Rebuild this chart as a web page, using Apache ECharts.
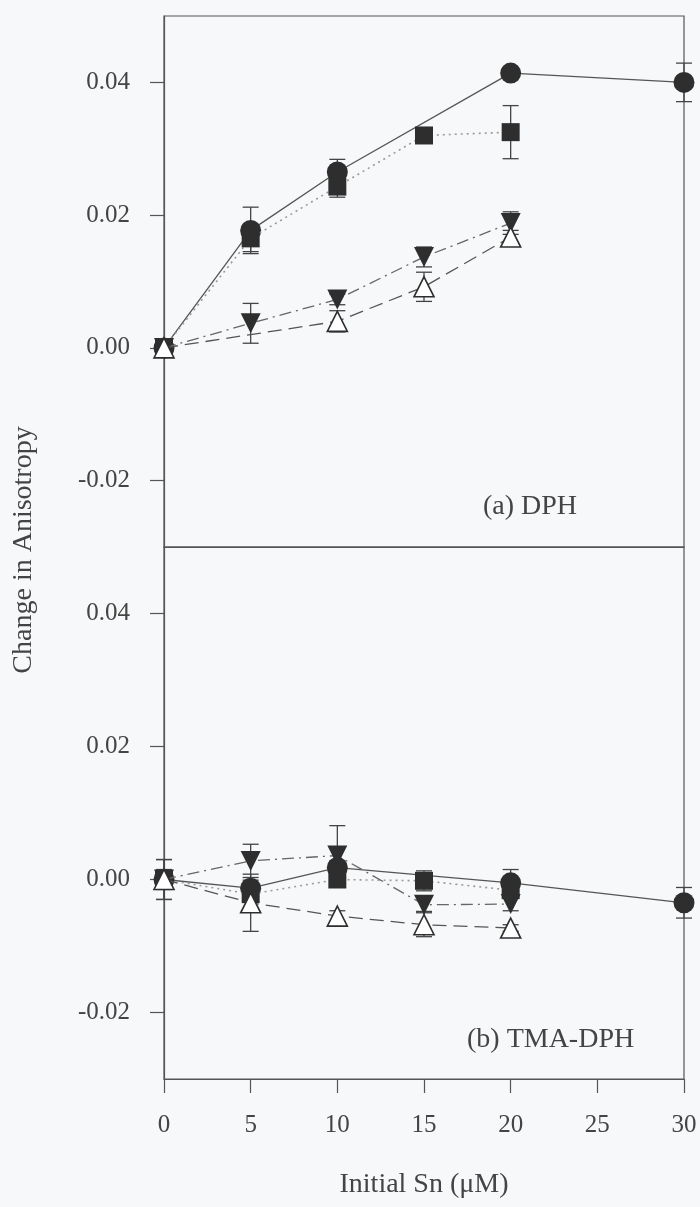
<!DOCTYPE html>
<html>
<head>
<meta charset="utf-8">
<script src="https://cdn.jsdelivr.net/npm/echarts@6/dist/echarts.min.js"></script>
<style>
  html, body { margin: 0; padding: 0; background: #f6f8f9; }
  #chart { width: 700px; height: 1207px; }
</style>
</head>
<body>
<div id="chart"></div>
<script>
// Axis ticks
const xTickValues = [0, 5, 10, 15, 20, 25, 30];
const yTickValues = [-0.02, 0.00, 0.02, 0.04];

// Points are [initial Sn (uM), change in anisotropy, error]
// (a) DPH
const dphCircle   = [[0, 0.0000, 0.0010], [5, 0.0177, 0.0035], [10, 0.0265, 0.0019], [20, 0.0414, 0.0008], [30, 0.0400, 0.0029]];
const dphSquare   = [[0, 0.0000, 0.0010], [5, 0.0165, 0.0020], [10, 0.0243, 0.0016], [15, 0.0320, 0.0005], [20, 0.0325, 0.0040]];
const dphInvTri   = [[0, 0.0000, 0.0010], [5, 0.0037, 0.0030], [10, 0.0073, 0.0008], [15, 0.0137, 0.0015], [20, 0.0188, 0.0017]];
const dphOpenTri  = [[0, 0.0000, 0.0010], [10, 0.0040, 0.0016], [15, 0.0092, 0.0022], [20, 0.0167, 0.0010]];

// (b) TMA-DPH
const tmaCircle   = [[0, 0.0000, 0.0015], [5, -0.0013, 0.0012], [10, 0.0018, 0.0010], [20, -0.0005, 0.0020], [30, -0.0035, 0.0023]];
const tmaSquare   = [[0, 0.0000, 0.0010], [5, -0.0022, 0.0010], [10, 0.0000, 0.0010], [15, -0.0002, 0.0015], [20, -0.0016, 0.0010]];
const tmaInvTri   = [[0, 0.0000, 0.0030], [5, 0.0028, 0.0025], [10, 0.0036, 0.0045], [15, -0.0038, 0.0010], [20, -0.0037, 0.0010]];
const tmaOpenTri  = [[0, 0.0000, 0.0030], [5, -0.0035, 0.0043], [10, -0.0055, 0.0008], [15, -0.0068, 0.0018], [20, -0.0073, 0.0005]];

const INK = '#2e2e2e';
const FRAME = '#555';
const FONT = 'Liberation Serif';

const styles = {
  circle:  { symbol: 'circle',   size: 21, rotate: 0,   fill: INK,   line: { color: '#555', width: 1.3, type: 'solid' }, z: 3 },
  square:  { symbol: 'rect',     size: 18, rotate: 0,   fill: INK,   line: { color: '#9a9a9a', width: 1.6, type: [2, 4] }, z: 4 },
  invTri:  { symbol: 'triangle', size: 20, rotate: 180, fill: INK,   line: { color: '#666', width: 1.3, type: [12, 5, 2, 5] }, z: 5 },
  openTri: { symbol: 'triangle', size: 20, rotate: 0,   fill: '#fff', line: { color: '#555', width: 1.3, type: [14, 7] }, z: 6 }
};

function lineSeries(points, panel, st) {
  return {
    type: 'line',
    xAxisIndex: panel, yAxisIndex: panel,
    data: points.map(p => [p[0], p[1]]),
    symbol: st.symbol, symbolSize: st.size, symbolRotate: st.rotate,
    itemStyle: { color: st.fill, borderColor: INK, borderWidth: st.fill === '#fff' ? 1.6 : 0 },
    lineStyle: st.line,
    clip: false, z: st.z, silent: true, animation: false
  };
}

function errorSeries(points, panel) {
  return {
    type: 'custom',
    xAxisIndex: panel, yAxisIndex: panel,
    data: points,
    encode: { x: 0, y: 1 },
    clip: false, z: 2, silent: true, animation: false,
    renderItem: function (params, api) {
      const x = api.value(0), y = api.value(1), e = api.value(2);
      const hi = api.coord([x, y + e]);
      const lo = api.coord([x, y - e]);
      const w = 8;
      const s = { stroke: '#444', lineWidth: 1.3 };
      return {
        type: 'group',
        children: [
          { type: 'line', shape: { x1: hi[0], y1: hi[1], x2: lo[0], y2: lo[1] }, style: s },
          { type: 'line', shape: { x1: hi[0] - w, y1: hi[1], x2: hi[0] + w, y2: hi[1] }, style: s },
          { type: 'line', shape: { x1: lo[0] - w, y1: lo[1], x2: lo[0] + w, y2: lo[1] }, style: s }
        ]
      };
    }
  };
}

function yAxisFor(panel) {
  return {
    type: 'value', gridIndex: panel,
    min: -0.03, max: 0.05, interval: 0.01,
    axisLine: { show: true, onZero: false, lineStyle: { color: FRAME, width: 1.2 } },
    axisTick: { show: true, inside: false, length: 14, customValues: yTickValues, lineStyle: { color: FRAME, width: 1.2 } },
    axisLabel: { show: true, customValues: yTickValues, margin: 34, fontFamily: FONT, fontSize: 25, color: '#444',
                 formatter: v => Number(v).toFixed(2) },
    splitLine: { show: false }
  };
}

const grids = [
  { left: 164, width: 520, top: 16, height: 531, show: true, borderColor: FRAME, borderWidth: 1.2, backgroundColor: 'transparent' },
  { left: 164, width: 520, top: 547, height: 532, show: true, borderColor: FRAME, borderWidth: 1.2, backgroundColor: 'transparent' }
];

const option = {
  backgroundColor: '#f6f8f9',
  animation: false,
  grid: grids,
  xAxis: [
    { type: 'value', gridIndex: 0, min: 0, max: 30, interval: 5,
      axisLine: { show: true, onZero: false, lineStyle: { color: FRAME, width: 1.2 } },
      axisTick: { show: false }, axisLabel: { show: false }, splitLine: { show: false } },
    { type: 'value', gridIndex: 1, min: 0, max: 30, interval: 5,
      axisLine: { show: true, onZero: false, lineStyle: { color: FRAME, width: 1.2 } },
      axisTick: { show: true, inside: false, length: 14, customValues: xTickValues, lineStyle: { color: FRAME, width: 1.2 } },
      axisLabel: { show: true, customValues: xTickValues, margin: 34, fontFamily: FONT, fontSize: 25, color: '#444' },
      splitLine: { show: false },
      name: 'Initial Sn (\u03BCM)', nameLocation: 'middle', nameGap: 92,
      nameTextStyle: { fontFamily: FONT, fontSize: 28, color: '#444' } }
  ],
  yAxis: [yAxisFor(0), yAxisFor(1)],
  graphic: [
    { type: 'text', x: 24, y: 550, rotation: Math.PI / 2,
      style: { text: 'Change in Anisotropy', fontFamily: FONT, fontSize: 28, fill: '#444', align: 'center', verticalAlign: 'middle' } },
    { type: 'text', x: 483, y: 507,
      style: { text: '(a) DPH', fontFamily: FONT, fontSize: 28, fill: '#444', align: 'left', verticalAlign: 'middle' } },
    { type: 'text', x: 467, y: 1040,
      style: { text: '(b) TMA-DPH', fontFamily: FONT, fontSize: 28, fill: '#444', align: 'left', verticalAlign: 'middle' } }
  ],
  series: [
    errorSeries(dphCircle, 0), errorSeries(dphSquare, 0), errorSeries(dphInvTri, 0), errorSeries(dphOpenTri, 0),
    lineSeries(dphCircle, 0, styles.circle), lineSeries(dphSquare, 0, styles.square),
    lineSeries(dphInvTri, 0, styles.invTri), lineSeries(dphOpenTri, 0, styles.openTri),
    errorSeries(tmaCircle, 1), errorSeries(tmaSquare, 1), errorSeries(tmaInvTri, 1), errorSeries(tmaOpenTri, 1),
    lineSeries(tmaCircle, 1, styles.circle), lineSeries(tmaSquare, 1, styles.square),
    lineSeries(tmaInvTri, 1, styles.invTri), lineSeries(tmaOpenTri, 1, styles.openTri)
  ]
};

const chart = echarts.init(document.getElementById('chart'), null, { renderer: 'canvas' });
chart.setOption(option);
</script>
</body>
</html>
